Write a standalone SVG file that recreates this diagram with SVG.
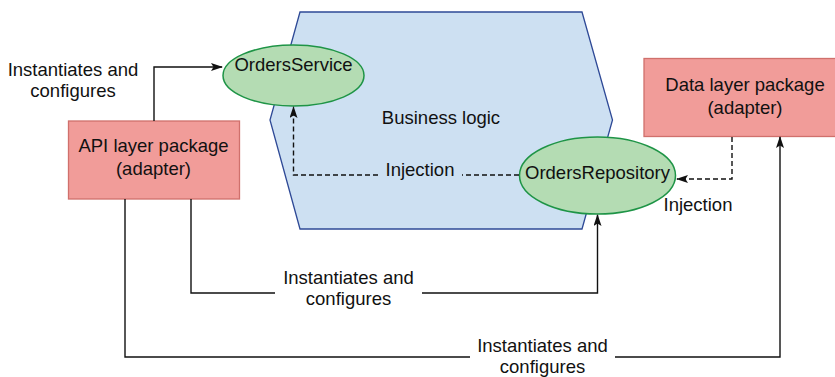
<svg xmlns="http://www.w3.org/2000/svg" width="835" height="377" viewBox="0 0 835 377">
<defs>
<style>
text{font-family:"Liberation Sans",Arial,sans-serif;font-size:18.5px;fill:#111;text-anchor:middle}
.box{fill:#f19c99;stroke:#d0706c;stroke-width:1.3}
.ell{fill:#b4dcb3;stroke:#1e9446;stroke-width:1.5}
.hex{fill:#cde0f2;stroke:#2e4996;stroke-width:1.3}
.ln{fill:none;stroke:#111;stroke-width:1.4}
.dash{fill:none;stroke:#111;stroke-width:1.4;stroke-dasharray:5 3}
</style>
<marker id="arr" viewBox="0 0 12 8" refX="11" refY="4" markerWidth="12" markerHeight="8" markerUnits="userSpaceOnUse" orient="auto">
<path d="M0,0 L12,4 L0,8 L2.5,4 z" fill="#111"/>
</marker>
</defs>
<g id="business-logic">
<polygon class="hex" points="300,12 582,12 612.5,120 582,229 300,229 270,120"/>
<text x="441" y="124">Business logic</text>
</g>
<g id="orders-service">
<ellipse class="ell" cx="293.5" cy="75.5" rx="70.5" ry="30.5"/>
<text x="293.5" y="71">OrdersService</text>
</g>
<g id="orders-repository">
<ellipse class="ell" cx="597.5" cy="175.5" rx="78" ry="38.5"/>
<text x="597.5" y="179">OrdersRepository</text>
</g>
<g id="api-layer">
<rect class="box" x="68.5" y="121" width="171" height="78"/>
<text x="153.5" y="152">API layer package</text>
<text x="153.5" y="175">(adapter)</text>
</g>
<g id="data-layer">
<rect class="box" x="644" y="58.5" width="202" height="78"/>
<text x="745" y="91">Data layer package</text>
<text x="745" y="114">(adapter)</text>
</g>
<g id="connectors">
<path class="ln" d="M154,121 V67 H222" marker-end="url(#arr)"/>
<text x="73" y="76">Instantiates and</text>
<text x="73" y="97">configures</text>
<path class="dash" d="M519,175 H462"/>
<path class="dash" d="M378,175 H293.5 V107" marker-end="url(#arr)"/>
<text x="420" y="176">Injection</text>
<path class="dash" d="M732,137 V179 H677" marker-end="url(#arr)"/>
<text x="698" y="211">Injection</text>
<path class="ln" d="M191,199 V293 H275"/>
<path class="ln" d="M422,293 H597.5 V215" marker-end="url(#arr)"/>
<text x="348.5" y="284">Instantiates and</text>
<text x="348.5" y="305">configures</text>
<path class="ln" d="M125,199 V357 H470"/>
<path class="ln" d="M615,357 H780 V137" marker-end="url(#arr)"/>
<text x="542.5" y="352">Instantiates and</text>
<text x="542.5" y="373">configures</text>
</g>
</svg>
